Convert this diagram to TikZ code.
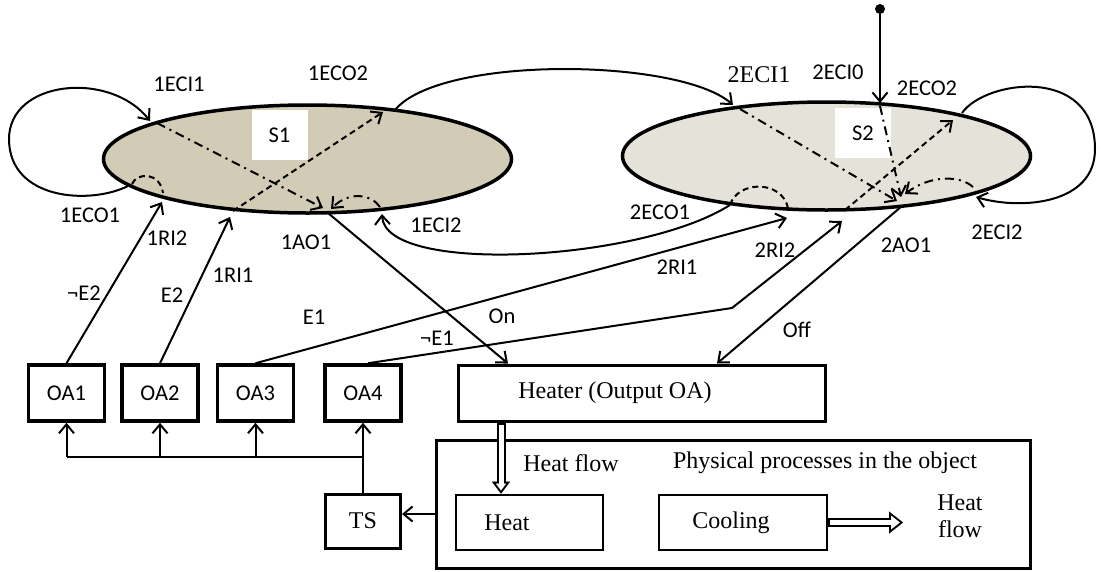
\documentclass[tikz,border=0pt]{standalone}
\usepackage{fontspec}
\setmainfont{Liberation Serif}
\newfontfamily\lblfont{Carlito}
\usetikzlibrary{arrows.meta,shapes.geometric}
\definecolor{sonecol}{RGB}{210,203,182}
\definecolor{stwocol}{RGB}{229,226,217}
\begin{document}
\begin{tikzpicture}[x=1pt,y=-1pt,
  lbl/.style={font=\lblfont\fontsize{22.5}{26}\selectfont, inner sep=0pt},
  slbl/.style={font=\fontsize{24}{27}\selectfont, inner sep=0pt},
  arr/.style={-{Straight Barb[length=9pt,width=15pt]}},
  conn/.style={line width=2pt},
  dashdot/.style={dash pattern=on 9pt off 5pt on 2pt off 5pt},
  dsh/.style={dash pattern=on 6pt off 4pt},
  stateell/.style={ellipse, draw, line width=3.5pt, inner sep=0pt, minimum width=408pt, minimum height=108pt},
  whitelbl/.style={fill=white, inner sep=0pt, minimum width=56pt, minimum height=50pt, font=\lblfont\fontsize{22.5}{26}\selectfont},
  oabox/.style={draw, fill=white, line width=3.5pt, minimum width=76pt, minimum height=56pt, inner sep=0pt, font=\lblfont\fontsize{22.5}{26}\selectfont},
  sbox/.style={draw, fill=white, line width=3pt, inner sep=0pt, font=\fontsize{24}{27}\selectfont},
  hfouter/.style={line width=9pt, -{Triangle[length=14pt,width=22pt,line width=0.1pt]}},
  hfinner/.style={line width=5pt, white, shorten <=2pt, shorten >=3.2pt, -{Triangle[length=8.8pt,width=13.8pt,line width=0.1pt]}},
  hvouter/.style={line width=9pt, -{Triangle[length=12pt,width=18pt,line width=0.1pt]}},
  hvinner/.style={line width=5pt, white, shorten <=2.2pt, shorten >=3.3pt, -{Triangle[length=6.7pt,width=10pt,line width=0.1pt]}},
]
\useasboundingbox (0,0) rectangle (1101,571);

% states
\node[stateell, fill=sonecol] (E1) at (307.5,159) {};
\node[stateell, fill=stwocol] (E2) at (826.5,156) {};
\node[whitelbl] (S1) at (279.5,135) {S1};
\node[whitelbl] (S2) at (863,133) {S2};

% boxes
\node[oabox] (OA1) at (66.5,393) {OA1};
\node[oabox] (OA2) at (160,393) {OA2};
\node[oabox] (OA3) at (255.5,393) {OA3};
\node[oabox] (OA4) at (363,393) {OA4};
\node[sbox, minimum width=367pt, minimum height=56pt] (Heater) at (641.5,393) {Heater (Output OA)\hspace*{53pt}};
\node[sbox, minimum width=594pt, minimum height=128pt] (Obj) at (733,504) {};
\node[sbox, line width=2.6pt, minimum width=147pt, minimum height=55pt] (Heat) at (529.5,522.5) {Heat\hspace*{45pt}};
\node[sbox, line width=2.6pt, minimum width=168pt, minimum height=55pt] (Cooling) at (743,522.5) {Cooling\hspace*{24pt}};
\node[sbox, minimum width=75pt, minimum height=54pt] (TS) at (363,521) {TS};

% points on the states
\coordinate (a1eci1) at (150,121);
\coordinate (a1eco1) at (128,186);
\coordinate (d1s) at (157,123);
\coordinate (d1e) at (323,208);
\coordinate (q1s) at (233,211);
\coordinate (q1e) at (383,112);
\coordinate (r1two) at (162,202);
\coordinate (r1one) at (230,217);
\coordinate (h1s) at (132,184);
\coordinate (h1e) at (163,193);
\coordinate (c1s) at (380,207);
\coordinate (c1e) at (331,209);
\coordinate (ao1) at (328,213);
\coordinate (eci2) at (382,214);
\coordinate (eco2) at (395,110);
\coordinate (eci21) at (733,105);
\coordinate (eco21) at (730,205);
\coordinate (eci20) at (880,103);
\coordinate (d2as) at (880,106);
\coordinate (d2ae) at (901,197);
\coordinate (d2bs) at (740,109);
\coordinate (d2be) at (897,201);
\coordinate (q2s) at (845,210);
\coordinate (q2e) at (953,120);
\coordinate (l2s) at (962,113);
\coordinate (l2e) at (976,197);
\coordinate (c2s) at (973,187);
\coordinate (c2e) at (905,194);
\coordinate (h2e) at (788,208);
\coordinate (r21) at (787,218);
\coordinate (r22bend) at (732,308);
\coordinate (r22) at (842,221);
\coordinate (ao21) at (902,206);
\coordinate (onx) at (508,0);
\coordinate (offx) at (717,0);
\coordinate (hfx) at (501,0);
\coordinate (hfend) at (903,522.5);
\coordinate (bus) at (0,457);
\coordinate (tsy) at (0,514);
\node[circle, fill, inner sep=0pt, minimum size=10pt] (dot) at (880,9) {};

% self loop S1
\draw[conn, arr] (a1eco1) .. controls (90,205) and (10,200) .. (9,140)
   .. controls (8,80) and (110,70) .. (a1eci1);
% inner lines S1
\draw[conn, dashdot, arr] (d1s) -- (d1e);
\draw[conn, dsh, arr] (q1s) -- (q1e);
\draw[conn, dsh] (h1s) .. controls (137,172) and (160,172) .. (h1e);
\draw[conn, dashdot, arr] (c1s) .. controls (372,195) and (350,190) .. (c1e);
% S1 -> S2 top arc
\draw[conn, arr] (eco2) .. controls (440,55) and (680,58) .. (eci21);
% S2 -> S1 bottom arc
\draw[conn, arr] (eco21) .. controls (640,262) and (385,275) .. (eci2);
% initial
\draw[conn, arr] (dot) -- (eci20);
% inner lines S2
\draw[conn, dashdot, arr] (d2as) -- (d2ae);
\draw[conn, dashdot, arr] (d2bs) -- (d2be);
\draw[conn, dsh, arr] (q2s) -- (q2e);
\draw[conn, dsh] (eco21) .. controls (738,180) and (782,180) .. (h2e);
\draw[conn, dashdot, arr] (c2s) .. controls (960,175) and (930,175) .. (c2e);
% self loop S2
\draw[conn, arr] (l2s) .. controls (985,80) and (1094,65) .. (1095,148)
   .. controls (1096,205) and (1020,210) .. (l2e);

% inputs
\draw[conn, arr] (OA1.north) -- (r1two);
\draw[conn, arr] (OA2.north) -- (r1one);
\draw[conn, arr] (OA3.north) -- (r21);
\draw[conn, arr] ([xshift=5pt]OA4.north) -- (r22bend) -- (r22);
% outputs
\draw[conn, arr] (ao1) -- (Heater.north -| onx);
\draw[conn, arr] (ao21) -- (Heater.north -| offx);

% bus
\draw[conn] (TS.north) -- (TS.north |- bus);
\draw[conn] (OA1.south |- bus) -- (OA4.south |- bus);
\draw[conn, arr] (OA1.south |- bus) -- (OA1.south);
\draw[conn, arr] (OA2.south |- bus) -- (OA2.south);
\draw[conn, arr] (OA3.south |- bus) -- (OA3.south);
\draw[conn, arr] (OA4.south |- bus) -- (OA4.south);
\draw[conn, arr] (Obj.west |- tsy) -- (TS.east |- tsy);

% heat flows (hollow double arrows)
\draw[hvouter] (Heater.south -| hfx) -- (Heat.north -| hfx);
\draw[hvinner] (Heater.south -| hfx) -- (Heat.north -| hfx);
\draw[hfouter] (Cooling.east) -- (hfend);
\draw[hfinner] (Cooling.east) -- (hfend);

% labels
\node[lbl] (t1eci1) at (179,84) {1ECI1};
\node[lbl] (t1eco2) at (338,73) {1ECO2};
\node[lbl] (t1eco1) at (90,215) {1ECO1};
\node[lbl] (t1ri2) at (167,238) {1RI2};
\node[lbl] (t1ao1) at (306,242) {1AO1};
\node[lbl] (t1eci2) at (436,225) {1ECI2};
\node[lbl] (t1ri1) at (233,275) {1RI1};
\node[lbl] (tne2) at (84,293) {¬E2};
\node[lbl] (te2) at (172,295) {E2};
\node[lbl] (te1) at (314,317) {E1};
\node[lbl] (tne1) at (437,338) {¬E1};
\node[lbl] (ton) at (502,316) {On};
\node[lbl] (t2eco1) at (660,212) {2ECO1};
\node[slbl] (t2eci1) at (759,75) {2ECI1};
\node[lbl] (t2eci0) at (838,72) {2ECI0};
\node[lbl] (t2eco2) at (927,88) {2ECO2};
\node[lbl] (t2eci2) at (997,232) {2ECI2};
\node[lbl] (t2ao1) at (906,245) {2AO1};
\node[lbl] (t2ri2) at (775,250) {2RI2};
\node[lbl] (t2ri1) at (677,267) {2RI1};
\node[lbl] (toff) at (797,330) {Off};
\node[slbl] (thf) at (571,463) {Heat flow};
\node[slbl] (tpp) at (825,463) {Physical processes in the object};
\node[slbl, align=center] (thf2) at (960,516) {Heat\\flow};
\end{tikzpicture}
\end{document}
